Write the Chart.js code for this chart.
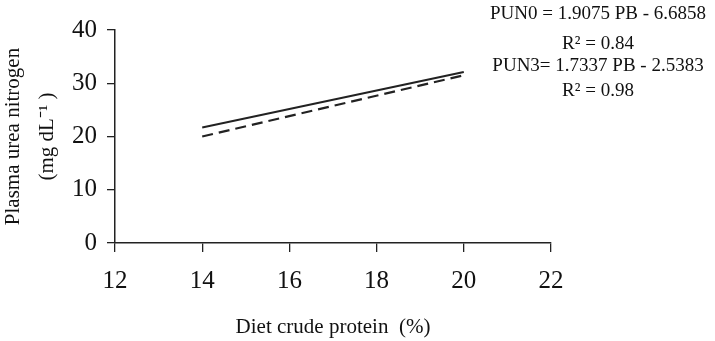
<!DOCTYPE html>
<html>
<head>
<meta charset="utf-8">
<script src="https://cdn.jsdelivr.net/npm/chart.js@4/dist/chart.umd.min.js"></script>
<style>
  html, body { margin: 0; padding: 0; background: #fff; }
  #wrap { width: 715px; height: 341px; position: relative; }
</style>
</head>
<body>
<div id="wrap"><canvas id="c" width="715" height="341"></canvas></div>
<script>
// ---- data ----
const proteinLevels = [14, 20];            // diet crude protein (%)
const pun3Values = [21.7, 32.1];           // solid line
const pun0Values = [20.0, 31.5];           // dashed line
const xTicks = [12, 14, 16, 18, 20, 22];
const yTicks = [0, 10, 20, 30, 40];
const equationLines = [
  'PUN0 = 1.9075 PB - 6.6858',
  'R\u00B2 = 0.84',
  'PUN3= 1.7337 PB - 2.5383',
  'R\u00B2 = 0.98'
];
const xTitle = 'Diet crude protein  (%)';
const yTitle = ['Plasma urea nitrogen', '(mg dL\u207B\u00B9 )'];

const SERIF = '"Liberation Serif", "Times New Roman", serif';
const INK = '#222';

const toPoints = (xs, ys) => xs.map((x, i) => ({ x: x, y: ys[i] }));

const annotationPlugin = {
  id: 'equations',
  afterDraw(chart) {
    const ctx = chart.ctx;
    ctx.save();
    ctx.fillStyle = '#111';
    ctx.font = '19px ' + SERIF;
    ctx.textAlign = 'center';
    ctx.textBaseline = 'middle';
    const ys = [14, 44, 66, 91];
    equationLines.forEach((t, i) => ctx.fillText(t, 598, ys[i]));
    ctx.restore();
  }
};

new Chart(document.getElementById('c'), {
  type: 'line',
  data: {
    datasets: [
      {
        label: 'PUN3',
        data: toPoints(proteinLevels, pun3Values),
        borderColor: INK,
        borderWidth: 2,
        pointRadius: 0,
        fill: false,
        tension: 0
      },
      {
        label: 'PUN0',
        data: toPoints(proteinLevels, pun0Values),
        borderColor: INK,
        borderWidth: 2.2,
        borderDash: [11, 6],
        pointRadius: 0,
        fill: false,
        tension: 0
      }
    ]
  },
  options: {
    responsive: false,
    animation: false,
    devicePixelRatio: 1,
    layout: { padding: { left: 0, right: 164, top: 30, bottom: 0 } },
    plugins: { legend: { display: false }, tooltip: { enabled: false } },
    scales: {
      x: {
        type: 'linear',
        min: 12, max: 22,
        afterBuildTicks(scale) { scale.ticks = xTicks.map(v => ({ value: v })); },
        afterFit(scale) { scale.height = 98; },
        grid: { drawOnChartArea: false, drawTicks: true, tickLength: 9, color: INK, lineWidth: 1.3 },
        border: { display: true, color: INK, width: 1.5 },
        ticks: { color: '#111', font: { family: SERIF, size: 25 }, padding: 14 },
        title: {
          display: true, text: xTitle, color: '#111',
          font: { family: SERIF, size: 21 }, padding: { top: 0, bottom: 1 }
        }
      },
      y: {
        type: 'linear',
        min: 0, max: 40,
        afterBuildTicks(scale) { scale.ticks = yTicks.map(v => ({ value: v })); },
        afterFit(scale) { scale.width = 115; },
        grid: { drawOnChartArea: false, drawTicks: true, tickLength: 8, color: INK, lineWidth: 1.3 },
        border: { display: true, color: INK, width: 1.5 },
        ticks: { color: '#111', font: { family: SERIF, size: 25 }, padding: 10 },
        title: {
          display: true, text: yTitle, color: '#111',
          font: { family: SERIF, size: 21, lineHeight: '34px' }, padding: { top: -4, bottom: 0 }
        }
      }
    }
  },
  plugins: [annotationPlugin]
});
</script>
</body>
</html>
